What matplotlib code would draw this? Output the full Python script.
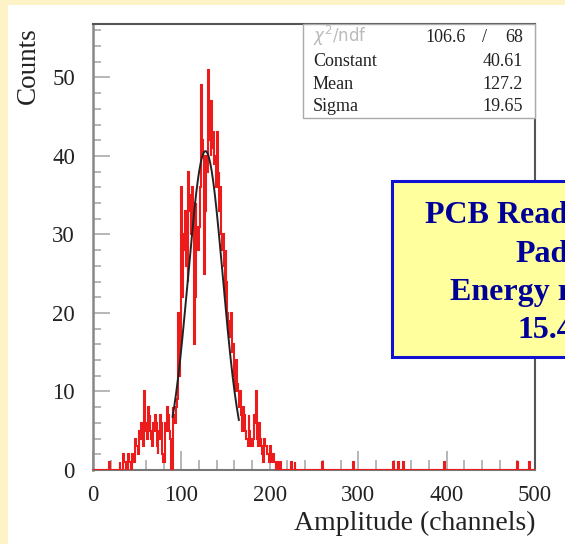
import numpy as np
import matplotlib
matplotlib.use("Agg")
import matplotlib.pyplot as plt
from matplotlib.patches import Rectangle
from matplotlib.ticker import MultipleLocator

# ---------------- data ----------------
bin_width = 1
bin_start = 16
counts = [
    0, 0, 1, 0, 0, 0, 0, 0, 0, 0,        # 16..25
    0, 0, 0, 0, 1, 0, 0, 0, 2, 1,        # 26..35
    1, 0, 0, 0, 2, 1, 1, 0, 2, 1,        # 36..45
    1, 2, 4, 3, 3, 2, 5, 4, 6, 5,        # 46..55
    4, 3, 10, 6, 5, 4, 8, 6, 7, 5,       # 56..65
    4, 3, 6, 5, 7, 6, 3, 2, 5, 4,        # 66..75
    7, 6, 2, 1, 1, 2, 6, 5, 8, 7,        # 76..85
    5, 4, 0, 0, 8, 7, 7, 6, 8, 9,        # 86..95
    20, 12, 16, 18, 36, 22, 30, 28, 33, 26,  # 96..105
    30, 24, 38, 33, 35, 30, 36, 34, 16, 22,  # 106..115
    34, 30, 31, 28, 31, 36, 49, 42, 40, 35,  # 116..125
    25, 33, 40, 38, 51, 42, 44, 40, 47, 41,  # 126..135
    43, 39, 40, 36, 43, 37, 38, 33, 36, 30,  # 136..145
    28, 30, 26, 22, 28, 24, 20, 18, 17, 19,  # 146..155
    20, 15, 16, 13, 12, 10, 14, 11, 10, 8,   # 156..165
    10, 7, 6, 5, 8, 7, 5, 4, 4, 3,           # 166..175
    7, 5, 4, 3, 3, 4, 7, 6, 10, 5,           # 176..185
    4, 3, 6, 4, 3, 2, 1, 2, 4, 3,            # 186..195
    3, 2, 2, 1, 3, 1, 1, 2, 2, 1,            # 196..205
    1, 0, 1, 0, 0, 0, 1, 0, 0, 0,            # 206..215
    0, 0, 0, 0, 0, 0, 0, 0, 1, 0,            # 216..225
    0, 0, 1, 0,                              # 226..229
]
# isolated single counts far in the tail (channel positions)
tail_channels = [259, 294, 339, 345, 351, 397, 480, 493]

# Gaussian fit results
fit_chi2, fit_ndf = 106.6, 68
fit_const, fit_mean, fit_sigma = 40.61, 127.2, 19.65
fit_range = (90, 165)

x_ticks = [0, 100, 200, 300, 400, 500]
y_ticks = [0, 10, 20, 30, 40, 50]

# ---------------- build full histogram ----------------
edges = np.arange(0, 500 + bin_width, bin_width)
h = np.zeros(len(edges) - 1)
i0 = bin_start // bin_width
h[i0:i0 + len(counts)] = counts
for c in tail_channels:
    h[c // bin_width] += 1

# ---------------- figure ----------------
W, H = 565, 544
fig = plt.figure(figsize=(W / 100, H / 100), dpi=100)
fig.patch.set_facecolor("#fdf3c6")

def fx(px):
    return px / W

def fy(py):
    return 1 - py / H

fig.add_artist(Rectangle((fx(8), 0), 1 - fx(8), fy(5), transform=fig.transFigure,
                         facecolor="white", edgecolor="none", zorder=0))

ax = fig.add_axes([fx(93), fy(470), fx(535) - fx(93), fy(24) - fy(470)])
ax.set_facecolor("white")

ax.stairs(h, edges, color="#ec1c1c", linewidth=1.5, baseline=0, zorder=3)

xf = np.linspace(fit_range[0], fit_range[1], 300)
yf = fit_const * np.exp(-0.5 * ((xf - fit_mean) / fit_sigma) ** 2)
ax.plot(xf, yf, color="#222222", linewidth=1.4, zorder=4)

ax.set_xlim(0, 500)
ax.set_ylim(0, 56.8)
ax.set_xticks(x_ticks)
ax.set_yticks(y_ticks)
ax.xaxis.set_minor_locator(MultipleLocator(20))
ax.yaxis.set_minor_locator(MultipleLocator(2))

serif = "Liberation Serif"
ax.tick_params(axis="both", which="both", direction="in", color="#aaaaaa", width=1.2,
               labelsize=16.5, top=False, right=False)
ax.tick_params(axis="y", which="major", length=12, pad=13)
ax.tick_params(axis="y", which="minor", length=6)
ax.tick_params(axis="x", which="major", length=14, pad=11)
ax.tick_params(axis="x", which="minor", length=7)
for lab in ax.get_xticklabels() + ax.get_yticklabels():
    lab.set_fontfamily(serif)
    lab.set_color("#222222")

for side in ["top", "right"]:
    ax.spines[side].set_color("#555555")
    ax.spines[side].set_linewidth(1.5)
ax.spines["left"].set_color("#888888")
ax.spines["left"].set_linewidth(1.8)
ax.spines["bottom"].set_color("#777777")
ax.spines["bottom"].set_linewidth(1.5)

# axis titles
fig.text(fx(28), fy(27), "Counts", rotation=90, ha="center", va="top",
         fontsize=19.5, family=serif, color="#222222")
fig.text(fx(535), fy(530), "Amplitude (channels)", ha="right", va="baseline",
         fontsize=20, family=serif, color="#222222")

# statistics box
fig.add_artist(Rectangle((fx(303), fy(118)), fx(535) - fx(303), fy(24) - fy(118),
                         transform=fig.transFigure, facecolor="white",
                         edgecolor="#aaaaaa", linewidth=1.0, zorder=5))
rows = [("Constant", f"{fit_const:.2f}"), ("Mean", f"{fit_mean:.1f}"),
        ("Sigma", f"{fit_sigma:.2f}")]
fig.text(fx(313), fy(42), r"$\chi^2$/ndf", ha="left", va="baseline", fontsize=12,
         family="DejaVu Sans", color="#bbbbbb", zorder=6)
fig.text(fx(466), fy(42), f"{fit_chi2:.1f}", ha="right", va="baseline", fontsize=13,
         family=serif, color="#222222", zorder=6)
fig.text(fx(484), fy(42), "/", ha="center", va="baseline", fontsize=13,
         family=serif, color="#222222", zorder=6)
fig.text(fx(523), fy(42), f"{fit_ndf}", ha="right", va="baseline", fontsize=13,
         family=serif, color="#222222", zorder=6)
for k, (name, val) in enumerate(rows):
    yb = [66, 89, 111][k]
    fig.text(fx(313), fy(yb), name, ha="left", va="baseline", fontsize=13,
             family=serif, color="#222222", zorder=6)
    fig.text(fx(523), fy(yb), val, ha="right", va="baseline", fontsize=13,
             family=serif, color="#222222", zorder=6)

# yellow annotation box (runs off the right edge, as in the original slide)
fig.add_artist(Rectangle((fx(392), fy(357)), fx(700) - fx(392), fy(181) - fy(357),
                         transform=fig.transFigure, facecolor="#ffff9e",
                         edgecolor="#1010d0", linewidth=2.2, zorder=7))
note_lines = ["PCB Readout", "Pads", "Energy resolution", "15.4%"]
note_x = [425, 515, 450, 517]
note_y = [223, 262, 300, 338]
for t, xx, yy in zip(note_lines, note_x, note_y):
    fig.text(fx(xx), fy(yy), t, ha="left", va="baseline", fontsize=23,
             fontweight="bold", family=serif, color="#000099", zorder=8)

fig.savefig("out.png", dpi=100)
